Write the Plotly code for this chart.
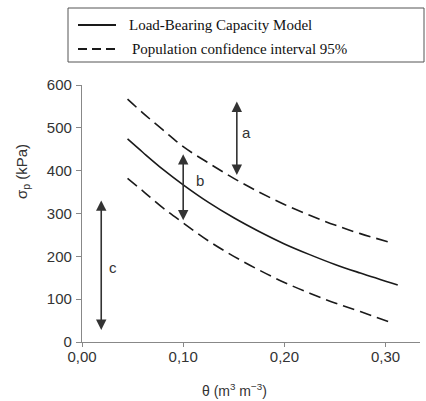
import plotly.graph_objects as go

# ---- data ----
theta_model = [0.045, 0.06, 0.08, 0.10, 0.125, 0.15, 0.175, 0.20, 0.225, 0.25, 0.275, 0.312]
sigma_model = [474, 443, 403, 367, 326, 290, 258, 229, 204, 181, 161, 133]

theta_ci = [0.045, 0.06, 0.08, 0.10, 0.125, 0.15, 0.175, 0.20, 0.225, 0.25, 0.275, 0.307]
sigma_upper = [567, 535, 495, 456, 418, 382, 350, 321, 296, 273, 253, 231]
sigma_lower = [382, 353, 313, 278, 236, 200, 168, 139, 114, 91, 71, 44]

# arrows: (x, y_top, y_bottom, label, label_x, label_y)
arrow_x = [0.153, 0.100, 0.019]
arrow_top = [565, 442, 334]
arrow_bottom = [390, 284, 28]
arrow_labels = ["a", "b", "c"]
label_x = [0.163, 0.117, 0.031]
label_y = [490, 378, 175]

x_ticks = [0.0, 0.1, 0.2, 0.3]
x_ticklabels = ["0,00", "0,10", "0,20", "0,30"]
y_ticks = [0, 100, 200, 300, 400, 500, 600]

legend_names = ["Load-Bearing Capacity Model", "Population confidence interval 95%"]

# ---- layout geometry (px) ----
W, H = 426, 401
ML, MR, MT, MB = 82, 6, 85, 59
PW, PH = W - ML - MR, H - MT - MB


def px2paper(px, py):
    return (px - ML) / PW, (H - MB - py) / PH


fig = go.Figure()
line_col = "#1a1a1a"
fig.add_trace(go.Scatter(x=theta_model, y=sigma_model, mode="lines", line=dict(color=line_col, width=1.6, shape="spline"),
                         name=legend_names[0], showlegend=False))
fig.add_trace(go.Scatter(x=theta_ci, y=sigma_upper, mode="lines", line=dict(color=line_col, width=1.6, dash="12px,6px", shape="spline"),
                         name=legend_names[1], showlegend=False))
fig.add_trace(go.Scatter(x=theta_ci, y=sigma_lower, mode="lines", line=dict(color=line_col, width=1.6, dash="12px,6px", shape="spline"),
                         name=legend_names[1], showlegend=False))

annotations = []
for xa, yt, yb, lab, lx, ly in zip(arrow_x, arrow_top, arrow_bottom, arrow_labels, label_x, label_y):
    annotations.append(dict(x=xa, y=yb, ax=xa, ay=yt, xref="x", yref="y", axref="x", ayref="y",
                            showarrow=True, arrowhead=2, startarrowhead=2, arrowside="end+start",
                            arrowsize=1.3, startarrowsize=1.3, arrowwidth=1.6, arrowcolor="#333333",
                            standoff=0, startstandoff=0, text=""))
    annotations.append(dict(x=lx, y=ly, xref="x", yref="y", text=lab, showarrow=False,
                            xanchor="center", yanchor="middle",
                            font=dict(family="Liberation Sans, Arial", size=15, color="#333333")))

# axis titles
tx, ty = px2paper(234, 390)
annotations.append(dict(x=tx, y=ty, xref="paper", yref="paper", showarrow=False,
                        xanchor="center", yanchor="middle",
                        text="θ (m<sup>3</sup> m<sup>−3</sup>)",
                        font=dict(family="Liberation Sans, Arial", size=14, color="#333333")))
tx, ty = px2paper(22, 172)
annotations.append(dict(x=tx, y=ty, xref="paper", yref="paper", showarrow=False, textangle=-90,
                        xanchor="center", yanchor="middle",
                        text="σ<sub>p</sub> (kPa)",
                        font=dict(family="Liberation Sans, Arial", size=15, color="#333333")))

# manual legend
shapes = []
x0, y0 = px2paper(68, 8)
x1, y1 = px2paper(424, 62)
shapes.append(dict(type="rect", xref="paper", yref="paper", x0=x0, y0=y1, x1=x1, y1=y0,
                   line=dict(color="#555555", width=1), fillcolor="white"))
for i, (py, dash, tpx) in enumerate([(25, "solid", 127), (49, "9px,5px", 130)]):
    a0, b0 = px2paper(78, py)
    a1, _ = px2paper(116, py)
    shapes.append(dict(type="line", xref="paper", yref="paper", x0=a0, y0=b0, x1=a1, y1=b0,
                       line=dict(color=line_col, width=1.8, dash=dash)))
    tx, ty = px2paper(tpx, py)
    annotations.append(dict(x=tx, y=ty, xref="paper", yref="paper", xanchor="left", yanchor="middle",
                            showarrow=False, text=legend_names[i],
                            font=dict(family="Liberation Serif, Times New Roman", size=15, color="#111111")))

fig.update_layout(
    width=W, height=H, margin=dict(l=ML, r=MR, t=MT, b=MB),
    paper_bgcolor="white", plot_bgcolor="white", showlegend=False,
    annotations=annotations, shapes=shapes,
    xaxis=dict(range=[0, 0.334], tickvals=x_ticks, ticktext=x_ticklabels, showgrid=False, zeroline=False,
               showline=True, linecolor="#888888", linewidth=1.2, ticks="outside", ticklen=4, tickcolor="#888888",
               ticklabelstandoff=-3,
               tickfont=dict(family="Liberation Sans, Arial", size=15, color="#333333")),
    yaxis=dict(range=[0, 600], tickvals=y_ticks, showgrid=False, zeroline=False,
               showline=True, linecolor="#888888", linewidth=1.2, ticks="outside", ticklen=5, tickcolor="#888888",
               ticklabelstandoff=1,
               tickfont=dict(family="Liberation Sans, Arial", size=15, color="#333333")),
)

fig.write_html("out.html")
